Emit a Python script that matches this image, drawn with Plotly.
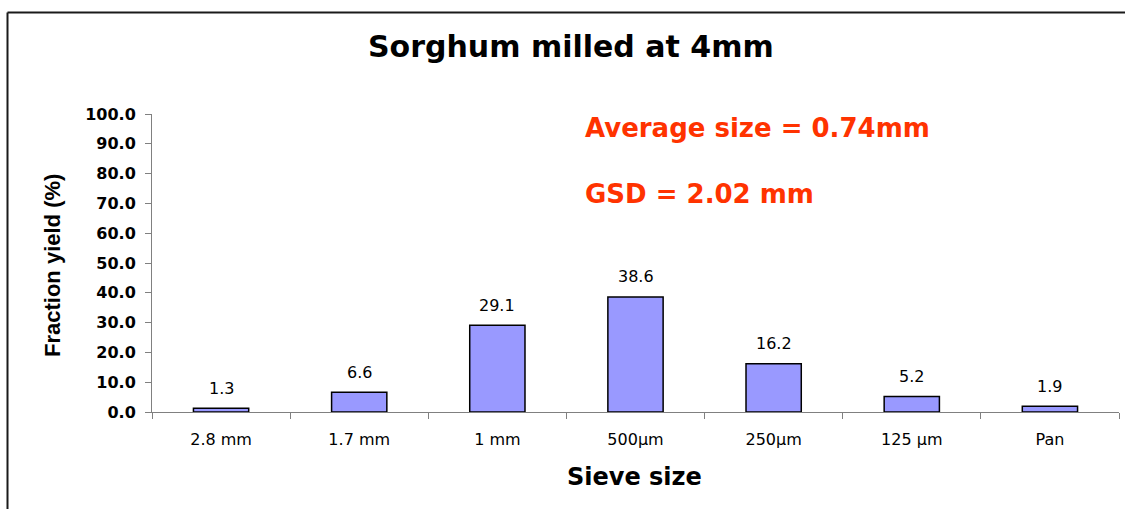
import plotly.graph_objects as go

categories = ["2.8 mm", "1.7 mm", "1 mm", "500µm", "250µm", "125 µm", "Pan"]
fraction_yield = [1.3, 6.6, 29.1, 38.6, 16.2, 5.2, 1.9]
y_ticks = [0, 10, 20, 30, 40, 50, 60, 70, 80, 90, 100]

W, H = 1125, 509
L, R, T, B = 152, 6, 114, 97
PW, PH = W - L - R, H - T - B


def xp(px):
    return (px - L) / PW


def yp(py):
    return (H - B - py) / PH


fig = go.Figure()
fig.add_trace(go.Bar(
    x=categories, y=fraction_yield, width=0.4,
    marker=dict(color="#9999FF", line=dict(color="#000000", width=1.5)),
    hoverinfo="x+y",
))

annotations = []
for c, v in zip(categories, fraction_yield):
    annotations.append(dict(
        x=c, y=v, xref="x", yref="y", text=f"{v:.1f}", showarrow=False,
        yanchor="middle", xanchor="center", yshift=20,
        font=dict(family="DejaVu Sans", size=16, color="#000000"),
    ))

annotations += [
    dict(x=xp(571), y=yp(47), xref="paper", yref="paper", text="<b>Sorghum milled at 4mm</b>",
         showarrow=False, xanchor="center", yanchor="middle",
         font=dict(family="DejaVu Sans", size=30, color="#000000")),
    dict(x=xp(583), y=yp(128), xref="paper", yref="paper", text="<b>Average size = 0.74mm</b>",
         showarrow=False, xanchor="left", yanchor="middle",
         font=dict(family="DejaVu Sans", size=26, color="#FF3300")),
    dict(x=xp(583), y=yp(194), xref="paper", yref="paper", text="<b>GSD = 2.02 mm</b>",
         showarrow=False, xanchor="left", yanchor="middle",
         font=dict(family="DejaVu Sans", size=26, color="#FF3300")),
    dict(x=xp(634), y=yp(477), xref="paper", yref="paper", text="<b>Sieve size</b>",
         showarrow=False, xanchor="center", yanchor="middle",
         font=dict(family="DejaVu Sans", size=24, color="#000000")),
    dict(x=xp(52), y=yp(266), xref="paper", yref="paper", text="<b>Fraction yield (%)</b>",
         showarrow=False, xanchor="center", yanchor="middle", textangle=-90,
         font=dict(family="Liberation Sans", size=22, color="#000000")),
]

border = dict(color="#1a1a1a", width=2)
fig.update_layout(
    width=W, height=H,
    margin=dict(l=L, r=R, t=T, b=B, pad=0),
    paper_bgcolor="white", plot_bgcolor="white",
    showlegend=False,
    bargap=0.6,
    annotations=annotations,
    shapes=[
        dict(type="line", xref="paper", yref="paper",
             x0=xp(7.5), x1=xp(1200), y0=yp(12.5), y1=yp(12.5), line=border, layer="below"),
        dict(type="line", xref="paper", yref="paper",
             x0=xp(7.5), x1=xp(7.5), y0=yp(12.5), y1=yp(560), line=border, layer="below"),
    ],
    xaxis=dict(
        type="category", showline=True, linecolor="#808080", linewidth=1,
        ticks="outside", ticklen=6, tickcolor="#808080", tickson="boundaries",
        showgrid=False, zeroline=False,
        tickfont=dict(family="DejaVu Sans", size=16, color="#000000"),
        ticklabelstandoff=13,
    ),
    yaxis=dict(
        range=[0, 100], tickvals=y_ticks, tickformat=".1f",
        showline=True, linecolor="#808080", linewidth=1,
        ticks="outside", ticklen=6, tickcolor="#808080",
        showgrid=False, zeroline=False,
        tickfont=dict(family="DejaVu Sans", size=16, color="#000000"),
        ticklabelstandoff=6,
    ),
)

# bold y tick labels
fig.update_yaxes(ticktext=[f"<b>{v:.1f}</b>" for v in y_ticks])

fig.write_html(
    "out.html",
    config={"displayModeBar": False},
    post_script="document.body.style.margin='0';document.body.style.overflow='hidden';",
)
